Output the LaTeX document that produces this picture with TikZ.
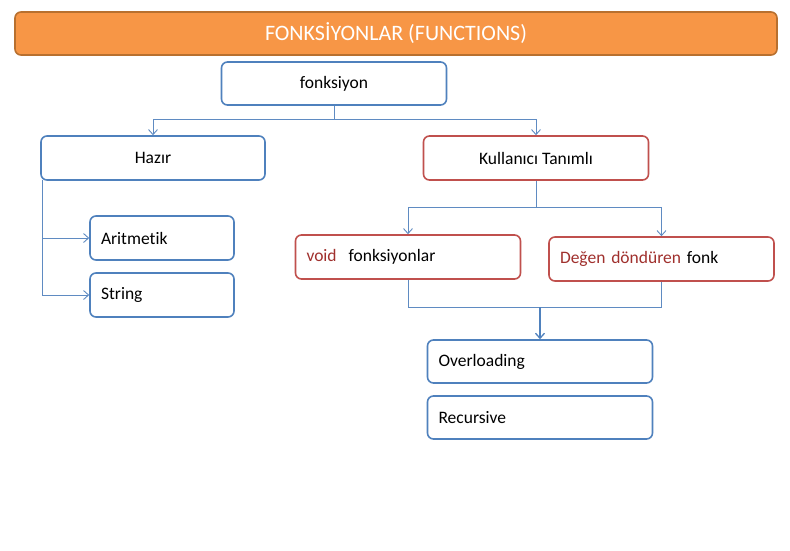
\documentclass[tikz,border=0pt]{standalone}
\usepackage{fontspec}
\setmainfont{Carlito}[Ligatures={NoCommon}]
\usetikzlibrary{arrows.meta}
\definecolor{bblue}{HTML}{4F81BD}
\definecolor{lblue}{HTML}{5F8BC2}
\definecolor{rred}{HTML}{C0504D}
\definecolor{tred}{HTML}{A0302D}
\definecolor{orfill}{HTML}{F79646}
\definecolor{ordraw}{HTML}{B8702F}
\begin{document}
\begin{tikzpicture}[x=1pt,y=-1pt,
  box/.style={draw=bblue,line width=1.6pt,fill=white,rounded corners=6pt,minimum height=44pt,inner sep=0pt,font=\fontsize{17.5}{19}\selectfont},
  rbox/.style={box,draw=rred},
  lbox/.style={text width=#1,align=left,inner xsep=11pt},
  conn/.style={draw=lblue,line width=0.9pt},
  arr/.style={conn,-{Straight Barb[length=5pt,width=9pt]}}
]
\useasboundingbox (0,0) rectangle (790,550);
\fill[white] (0,0) rectangle (790,550);
\node[draw=ordraw,fill=orfill,line width=1.6pt,rounded corners=6pt,minimum width=762pt,minimum height=43pt,inner sep=0pt,text=white,font=\fontsize{22}{24}\selectfont] (title) at (396,33.5) {FONKSİYONLAR (FUNCTIONS)};
\node[box,minimum width=225pt,minimum height=43pt] (fonk) at (334,83.5) {fonksiyon};
\node[box,minimum width=224pt] (hazir) at (153,158) {Hazır};
\node[rbox,minimum width=225pt] (kul) at (536,158) {Kullanıcı Tanımlı};
\node[box,lbox=122pt] (arit) at (162,238) {Aritmetik};
\node[box,lbox=122pt] (str) at (162,295) {String};
\node[rbox,lbox=203pt] (void) at (408,257) {\textcolor{tred}{void}\hspace{12pt}fonksiyonlar};
\node[rbox,lbox=203pt] (degen) at (661.5,259) {\textcolor{tred}{Değen döndüren} fonk};
\node[box,lbox=203pt,minimum height=43pt] (over) at (540,361.5) {Overloading};
\node[box,lbox=203pt,minimum height=43pt] (rec) at (540,417.5) {Recursive};
\coordinate (j1) at (334,119);
\coordinate (j2) at (536,207);
\coordinate (j3) at (540,307);
\coordinate (hz) at (42,180);
\draw[conn] (fonk.south) -- (j1);
\draw[arr] (j1) -| (hazir.north);
\draw[arr] (j1) -| (kul.north);
\draw[arr] (hz) |- (arit.west);
\draw[arr] (hz) |- (str.west);
\draw[conn] (kul.south) -- (j2);
\draw[arr] (j2) -| (void.north);
\draw[arr] (j2) -| (degen.north);
\draw[conn] (void.south) |- (j3);
\draw[conn] (degen.south) |- (j3);
\draw[arr,draw=bblue,line width=1.3pt] (j3) -- (over.north);
\end{tikzpicture}
\end{document}
